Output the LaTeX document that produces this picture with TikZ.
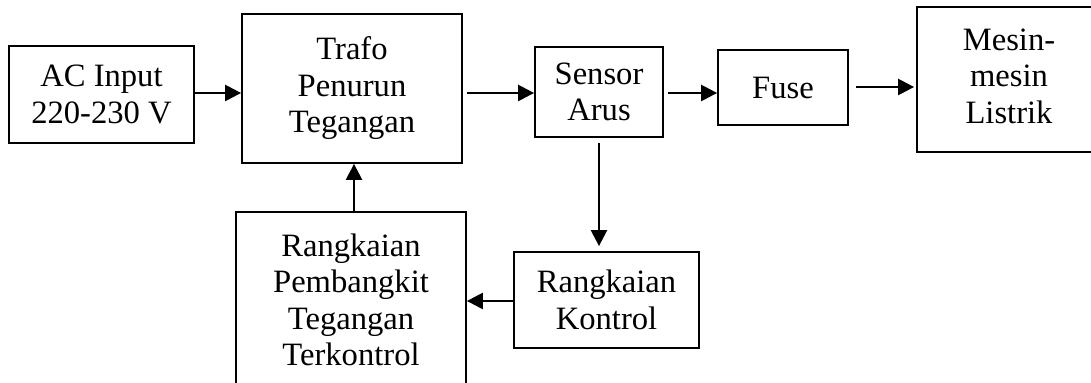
\documentclass[tikz,border=0pt]{standalone}
\usepackage{fontspec}
\setmainfont{Liberation Serif}
\usetikzlibrary{arrows.meta}
\begin{document}
\begin{tikzpicture}[x=0.5pt,y=-0.5pt,
  blk/.style={draw, line width=0.9pt, inner sep=0pt, align=center,
    font=\fontsize{16.3}{18.25}\selectfont},
  conn/.style={line width=1.2pt, -{Triangle[length=8pt,width=8pt]}}]
\useasboundingbox (0,0) rectangle (1091,383);
\clip (0,0) rectangle (1091,383);
\node[blk, minimum width=92.5pt, minimum height=48.5pt] (ac) at (101.5,94.5) {AC Input\\220-230 V};
\node[blk, minimum width=110pt, minimum height=74.5pt] (trafo) at (352,88.5) {Trafo\\Penurun\\Tegangan};
\node[blk, minimum width=64pt, minimum height=45pt] (sensor) at (599,92) {Sensor\\Arus};
\node[blk, minimum width=65pt, minimum height=37.5pt] (fuse) at (783,87.5) {Fuse};
\node[blk, minimum width=104pt, minimum height=72.5pt] (mesin) at (1021,79.5) {\begin{tabular}{@{}c@{\hspace{12pt}}}Mesin-\\mesin\\Listrik\end{tabular}};
\node[blk, minimum width=92.5pt, minimum height=48pt] (kontrol) at (606.5,300) {Rangkaian\\Kontrol};
\node[blk, minimum width=115pt, minimum height=88pt] (pemb) at (351,300) {Rangkaian\\Pembangkit\\Tegangan\\Terkontrol};
\draw[conn] (ac.east |- 0,93) -- (trafo.west |- 0,93);
\draw[conn, shorten <=2pt] (trafo.east |- 0,93) -- (sensor.west |- 0,93);
\draw[conn, shorten <=2pt] (sensor.east |- 0,93) -- (fuse.west |- 0,93);
\draw[conn, shorten <=3.5pt, shorten >=1pt] (fuse.east |- 0,87) -- (mesin.west |- 0,87);
\draw[conn, shorten <=2.5pt, shorten >=2.5pt] (sensor.south) -- (kontrol.north -| sensor.south);
\draw[conn] (kontrol.west |- 0,301) -- (pemb.east |- 0,301);
\draw[conn] (pemb.north -| 354,0) -- (trafo.south -| 354,0);
\end{tikzpicture}
\end{document}
